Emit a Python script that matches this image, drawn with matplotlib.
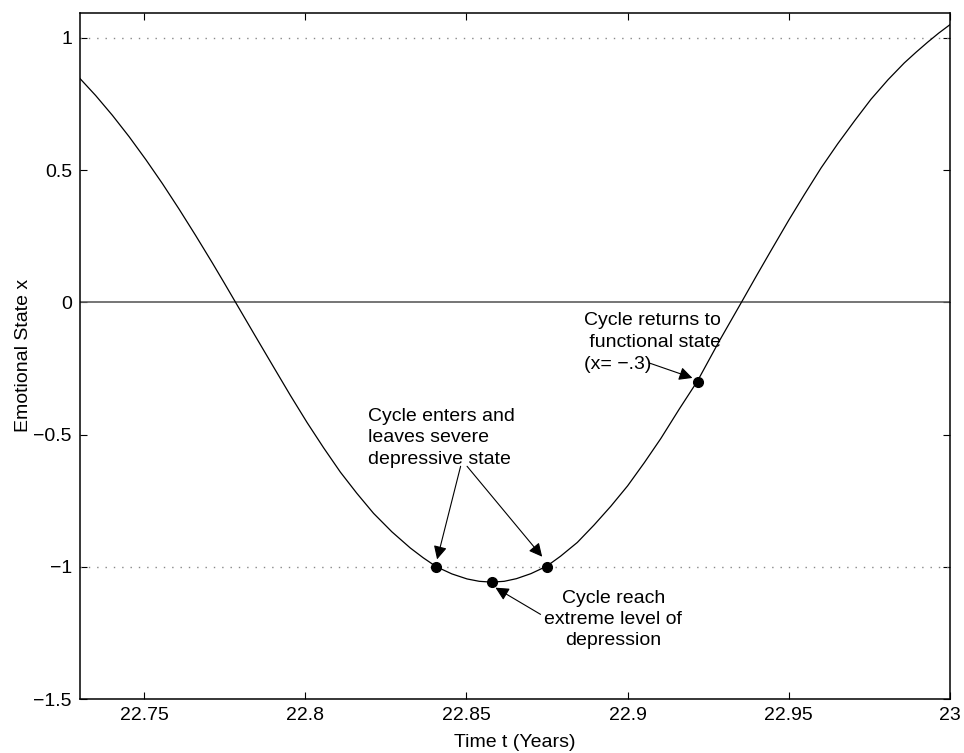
import numpy as np
import matplotlib
matplotlib.use('Agg')
import matplotlib.pyplot as plt

plt.rcParams['font.family'] = ['Liberation Sans', 'DejaVu Sans']

# emotional state curve (smoothed by eye)
t_years = [22.7300, 22.7350, 22.7402, 22.7454, 22.7506, 22.7557, 22.7609, 22.7660,
           22.7712, 22.7748, 22.7783, 22.7843, 22.7902, 22.7954, 22.8006, 22.8057,
           22.8109, 22.8160, 22.8212, 22.8269, 22.8326, 22.8366, 22.8407, 22.8455,
           22.8502, 22.8540, 22.8578, 22.8617, 22.8655, 22.8700, 22.8749, 22.8792,
           22.8844, 22.8896, 22.8948, 22.9000, 22.9052, 22.9103, 22.9160, 22.9217,
           22.9285, 22.9353, 22.9400, 22.9444, 22.9500, 22.9548, 22.9600, 22.9652,
           22.9705, 22.9755, 22.9808, 22.9858, 22.9895, 22.9931, 22.9965, 23.0000]
x_state = [0.848, 0.782, 0.707, 0.626, 0.539, 0.449, 0.352, 0.253,
           0.149, 0.075, 0.002, -0.123, -0.245, -0.352, -0.455, -0.550,
           -0.642, -0.722, -0.798, -0.868, -0.929, -0.966, -1.000, -1.027,
           -1.046, -1.055, -1.058, -1.055, -1.045, -1.026, -0.998, -0.960,
           -0.908, -0.842, -0.771, -0.694, -0.606, -0.515, -0.404, -0.297,
           -0.145, 0.000, 0.101, 0.194, 0.311, 0.407, 0.508, 0.600,
           0.688, 0.768, 0.842, 0.905, 0.946, 0.984, 1.018, 1.050]

# marked points: enters, extreme, leaves, functional
mark_t = [22.8407, 22.8578, 22.8749, 22.9217]
mark_x = [-1.0, -1.058, -1.0, -0.3]

x_ticks = [22.75, 22.8, 22.85, 22.9, 22.95, 23]
x_ticklabels = ['22.75', '22.8', '22.85', '22.9', '22.95', '23']
y_ticks = [-1.5, -1, -0.5, 0, 0.5, 1]
y_ticklabels = ['\u22121.5', '\u22121', '\u22120.5', '0', '0.5', '1']

fig = plt.figure(figsize=(9.64, 7.53), dpi=100)
ax = fig.add_axes([0.0825, 0.0717, 0.903, 0.9114])

# reference levels
ax.axhline(1, color='#888888', lw=1.0, ls=(0, (1, 5)))
ax.axhline(-1, color='#888888', lw=1.0, ls=(0, (1, 5)))
ax.axhline(0, color='#5e5e5e', lw=1.2)

ax.plot(t_years, x_state, color='k', lw=0.9)
ax.plot(mark_t, mark_x, 'o', color='k', ms=7)

ax.set_xlim(22.73, 23)
ax.set_ylim(-1.5, 1.095)
ax.set_xticks(x_ticks)
ax.set_xticklabels(x_ticklabels)
ax.set_yticks(y_ticks)
ax.set_yticklabels(y_ticklabels)
ax.tick_params(direction='in', length=5, width=0.8, labelsize=14, pad=5.5,
               top=True, right=True)
for sp in ax.spines.values():
    sp.set_linewidth(1.1)

ax.set_xlabel('Time t (Years)', fontsize=14)
ax.set_ylabel('Emotional State x', fontsize=14)
ax.xaxis.set_label_coords(0.5, -0.051)
ax.yaxis.set_label_coords(-0.055, 0.5)

arrow = dict(arrowstyle='-|>', color='k', lw=0.8, mutation_scale=20,
             shrinkA=0, shrinkB=0)

ax.text(22.8195, -0.513, 'Cycle enters and\nleaves severe\ndepressive state',
        ha='left', va='center', fontsize=14, linespacing=1.38)
ax.annotate('', xy=(22.8409, -0.972), xytext=(22.8482, -0.620), arrowprops=arrow)
ax.annotate('', xy=(22.8735, -0.962), xytext=(22.8502, -0.620), arrowprops=arrow)

ax.text(22.8956, -1.200, 'Cycle reach\nextreme level of\ndepression',
        ha='center', va='center', fontsize=14, linespacing=1.32,
        multialignment='center')
ax.annotate('', xy=(22.859, -1.079), xytext=(22.873, -1.180), arrowprops=arrow)

ax.text(22.8864, -0.1535, 'Cycle returns to\n functional state\n(x= \u2212.3)',
        ha='left', va='center', fontsize=14, linespacing=1.38)
ax.annotate('', xy=(22.9201, -0.286), xytext=(22.9066, -0.229), arrowprops=arrow)

fig.savefig('out.png', dpi=100)
